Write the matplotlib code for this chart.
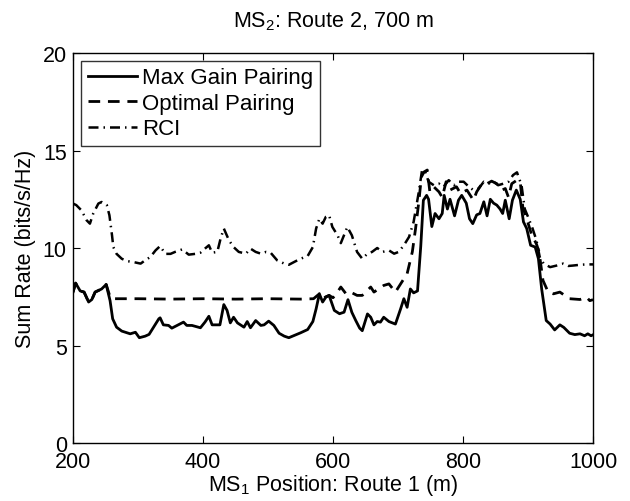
import matplotlib
matplotlib.use('Agg')
import matplotlib.pyplot as plt

pos_maxgain = [200, 204, 211, 217, 224, 229, 234, 244, 251, 257, 261, 267, 275, 288, 296, 302, 311, 317, 324, 332,
               334, 339, 347, 352, 360, 370, 375, 383, 396, 403, 409, 414, 426, 432, 437, 442, 447, 453, 463, 468,
               473, 481, 489, 494, 501, 509, 517, 525, 532, 540, 550, 561, 569, 574, 579, 584, 589, 594, 602, 610,
               617, 623, 629, 635, 641, 645, 653, 658, 663, 668, 673, 678, 686, 696, 704, 709, 714, 719, 724, 730,
               735, 739, 744, 747, 752, 757, 763, 768, 771, 776, 780, 787, 793, 798, 805, 810, 815, 821, 826, 832,
               837, 842, 847, 852, 857, 861, 865, 871, 876, 882, 888, 893, 898, 904, 911, 916, 921, 928, 934, 941,
               949, 955, 964, 972, 980, 987, 992, 997, 1000]
rate_maxgain = [7.74, 8.2, 7.8, 7.74, 7.23, 7.36, 7.74, 7.9, 8.13, 7.3, 6.37, 5.94, 5.74, 5.6, 5.68, 5.4, 5.48, 5.57, 5.94, 6.37,
                6.42, 6.06, 6.03, 5.89, 6.03, 6.2, 6.03, 6.03, 5.91, 6.2, 6.5, 6.06, 6.06, 7.1, 6.8, 6.16, 6.45, 6.16, 5.94, 6.23,
                5.91, 6.28, 6.03, 6.06, 6.25, 6.03, 5.63, 5.48, 5.4, 5.51, 5.65, 5.82, 6.23, 6.88, 7.65, 7.23, 7.48, 7.57, 6.8, 6.63,
                6.71, 7.35, 6.7, 6.28, 5.89, 5.76, 6.62, 6.45, 6.06, 6.23, 6.2, 6.45, 6.23, 6.1, 6.88, 7.4, 6.96, 7.9, 7.7, 7.8,
                10.1, 12.45, 12.7, 12.5, 11.1, 11.77, 11.5, 11.77, 12.7, 12.0, 12.5, 11.65, 12.45, 12.7, 12.3, 11.5, 11.25, 11.7, 11.77, 12.37,
                11.65, 12.5, 12.3, 12.2, 12.0, 11.77, 12.45, 11.5, 12.45, 12.97, 12.5, 11.34, 11.0, 10.14, 10.05, 9.45, 7.9, 6.28, 6.1, 5.8,
                6.06, 5.93, 5.63, 5.56, 5.6, 5.5, 5.6, 5.5, 5.55]

pos_optimal = [200, 204, 211, 217, 224, 229, 234, 244, 251, 256, 260, 300, 350, 400, 450, 500, 550, 570, 579, 584,
               589, 594, 600, 606, 612, 620, 627, 637, 645, 658, 663, 678, 686, 696, 704, 714, 722, 727, 732, 736,
               740, 745, 749, 755, 763, 768, 774, 780, 790, 796, 806, 816, 821, 829, 837, 844, 852, 860, 865, 870,
               875, 883, 888, 892, 898, 905, 913, 917, 923, 931, 939, 949, 964, 980, 990, 995, 1000]
rate_optimal = [7.74, 8.2, 7.8, 7.74, 7.23, 7.36, 7.74, 7.9, 8.13, 7.6, 7.4, 7.4, 7.38, 7.4, 7.38, 7.4, 7.38, 7.4, 7.65, 7.4,
                7.5, 7.57, 7.45, 7.7, 8.0, 7.65, 7.74, 7.57, 7.57, 8.0, 7.74, 8.08, 8.16, 7.74, 8.16, 8.68, 9.8, 11.0, 12.37, 13.65,
                13.9, 14.0, 12.88, 13.14, 12.88, 12.6, 13.4, 12.97, 13.14, 12.8, 12.97, 12.45, 12.88, 13.3, 13.3, 13.43, 13.3, 12.97, 13.05, 12.6,
                13.3, 13.48, 13.4, 12.1, 11.5, 10.74, 10.2, 9.8, 8.34, 7.74, 7.65, 7.74, 7.4, 7.36, 7.48, 7.3, 7.35]

pos_rci = [200, 205, 213, 221, 226, 231, 239, 244, 252, 256, 260, 262, 267, 275, 283, 293, 304, 311, 319, 327,
           334, 342, 350, 357, 368, 378, 388, 396, 403, 409, 414, 422, 427, 432, 440, 447, 455, 466, 473, 481,
           489, 497, 504, 514, 525, 532, 540, 550, 561, 569, 574, 579, 584, 589, 594, 599, 607, 612, 622, 629,
           637, 645, 653, 660, 668, 676, 686, 694, 701, 709, 717, 724, 732, 737, 742, 747, 755, 763, 770, 778,
           786, 793, 801, 809, 816, 824, 832, 839, 847, 854, 862, 870, 877, 883, 890, 895, 900, 907, 913, 918,
           924, 934, 944, 954, 962, 969, 980, 990, 1000]
rate_rci = [12.28, 12.2, 11.93, 11.42, 11.25, 11.76, 12.28, 12.36, 12.2, 11.68, 10.65, 10.05, 9.7, 9.45, 9.33, 9.28, 9.2, 9.37, 9.54, 9.88,
            10.1, 9.7, 9.7, 9.8, 9.93, 9.66, 9.7, 9.76, 9.97, 10.14, 9.76, 9.8, 10.48, 11.0, 10.39, 10.05, 9.8, 9.71, 9.97, 9.8,
            9.71, 9.8, 9.76, 9.37, 9.2, 9.14, 9.28, 9.45, 9.59, 10.05, 11.0, 11.5, 11.25, 11.6, 11.68, 11.08, 10.65, 10.25, 11.08, 10.65,
            9.8, 9.45, 9.71, 9.8, 10.0, 9.8, 9.88, 9.71, 9.8, 10.14, 10.57, 11.34, 12.88, 14.0, 13.9, 13.4, 13.22, 13.3, 13.14, 13.48,
            13.22, 13.4, 13.4, 13.14, 12.97, 13.05, 13.4, 13.3, 13.4, 13.22, 13.3, 13.4, 13.74, 13.88, 13.22, 12.0, 11.6, 11.0, 10.39, 9.54,
            9.2, 9.02, 9.1, 9.2, 9.08, 9.1, 9.14, 9.16, 9.16]

xticks = [200, 400, 600, 800, 1000]
yticks = [0, 5, 10, 15, 20]

plt.rcParams['font.family'] = ['Liberation Sans', 'DejaVu Sans']
plt.rcParams['font.size'] = 15.5
plt.rcParams['mathtext.fontset'] = 'custom'
plt.rcParams['mathtext.rm'] = 'Liberation Sans'
plt.rcParams['mathtext.it'] = 'Liberation Sans'

fig = plt.figure(figsize=(6.3, 5.02), dpi=100)
# axes box: x 73..593 px, y 54..444 px
ax = fig.add_axes([0.1159, 0.1155, 0.8254, 0.7769])

ax.plot(pos_maxgain, rate_maxgain, 'k-', lw=2, label='Max Gain Pairing')
ax.plot(pos_optimal, rate_optimal, 'k', ls=(0, (4.2, 2.8)), lw=2, label='Optimal Pairing')
ax.plot(pos_rci, rate_rci, 'k', ls=(0, (4, 2, 0.6, 2)), lw=1.8, label='RCI')

ax.set_xlim(200, 1000)
ax.set_ylim(0, 20)
ax.set_xticks(xticks)
ax.set_yticks(yticks)
ax.tick_params(direction='in', top=True, right=True, length=5, width=0.8)
ax.tick_params(axis='x', pad=5.8)
ax.tick_params(axis='y', pad=4.5)
for s in ax.spines.values():
    s.set_linewidth(1.0)

ax.set_title('MS$_2$: Route 2, 700 m', fontsize=15.5, pad=19)
ax.set_xlabel('MS$_1$ Position: Route 1 (m)', labelpad=0)
ax.set_ylabel('Sum Rate (bits/s/Hz)', labelpad=4.5)

leg = ax.legend(loc='upper left', bbox_to_anchor=(0.0155, 0.98), borderaxespad=0,
                fancybox=False, edgecolor='k', handlelength=2.2, handletextpad=0.25,
                labelspacing=0.2, borderpad=0.3, fontsize=16)
leg.get_frame().set_linewidth(1.0)

fig.savefig('out.png', dpi=100)
